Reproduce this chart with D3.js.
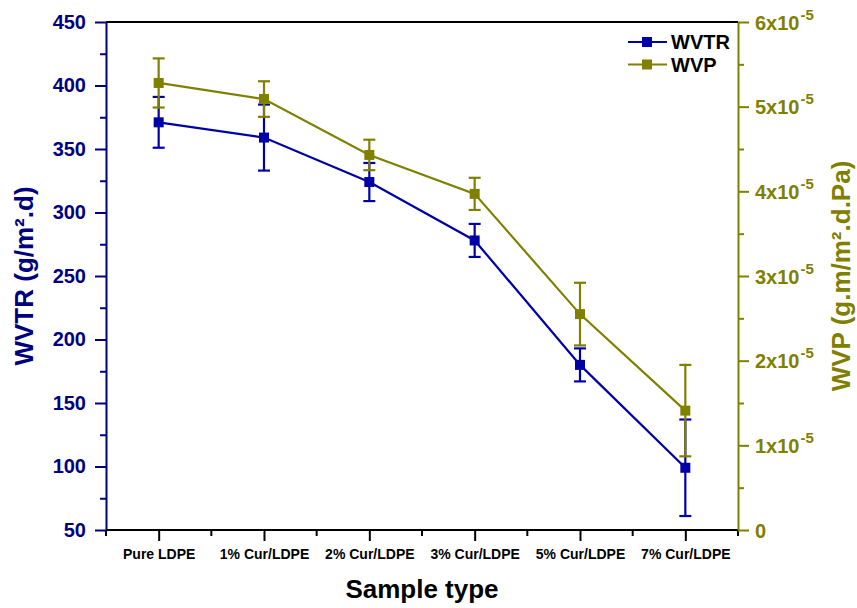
<!DOCTYPE html>
<html>
<head>
<meta charset="utf-8">
<script src="https://cdn.jsdelivr.net/npm/d3@7"></script>
<style>
  html, body { margin: 0; padding: 0; background: #ffffff; }
  svg { display: block; font-family: "Liberation Sans", Arial, sans-serif; }
</style>
</head>
<body>
<svg id="chart" width="857" height="608"></svg>
<script>
// ---------------- data ----------------
const categories = ["Pure LDPE", "1% Cur/LDPE", "2% Cur/LDPE", "3% Cur/LDPE", "5% Cur/LDPE", "7% Cur/LDPE"];
const wvtr      = [371, 359, 324, 278, 180, 99];
const wvtrErr   = [20, 26, 15, 13, 13, 38];
const wvp       = [5.28e-5, 5.09e-5, 4.43e-5, 3.97e-5, 2.55e-5, 1.41e-5];
const wvpErr    = [0.29e-5, 0.21e-5, 0.18e-5, 0.19e-5, 0.37e-5, 0.54e-5];
const leftTicks  = [50, 100, 150, 200, 250, 300, 350, 400, 450];
const leftMinor  = [75, 125, 175, 225, 275, 325, 375, 425];
const rightTicks = [0, 1e-5, 2e-5, 3e-5, 4e-5, 5e-5, 6e-5];
const rightMinor = [0.5e-5, 1.5e-5, 2.5e-5, 3.5e-5, 4.5e-5, 5.5e-5];
const seriesNames = ["WVTR", "WVP"];

// ---------------- layout ----------------
const L = 106, R = 738, T = 22, B = 530;
const blue = "#0000A8", navy = "#000080", olive = "#808000";

const svg = d3.select("#chart");
const x = d3.scalePoint().domain(categories).range([L, R]).padding(0.5);
const yL = d3.scaleLinear().domain([50, 450]).range([B, T]);
const yR = d3.scaleLinear().domain([0, 6e-5]).range([B, T]);

// ---------------- axes ----------------
svg.append("line").attr("x1", L).attr("x2", R).attr("y1", T).attr("y2", T)
  .attr("stroke", "#000").attr("stroke-width", 2);

// bottom axis
const gx = svg.append("g").attr("transform", `translate(0,${B})`)
  .call(d3.axisBottom(x).tickSize(11).tickPadding(8).tickSizeOuter(0));
gx.select(".domain").attr("stroke", "#000").attr("stroke-width", 2).attr("d", `M${L},0H${R}`);
gx.selectAll(".tick line").attr("stroke", "#000").attr("stroke-width", 2);
gx.selectAll(".tick text").attr("fill", "#000").attr("font-size", 14).attr("font-weight", "bold")
  .attr("font-family", "Liberation Sans, Arial, sans-serif");
const step = x.step();
const bMinor = [x(categories[0]) - step / 2].concat(categories.map(c => x(c) + step / 2));
svg.append("g").selectAll("line").data(bMinor).join("line")
  .attr("x1", d => d).attr("x2", d => d).attr("y1", B).attr("y2", B + 6)
  .attr("stroke", "#000").attr("stroke-width", 2);

// left axis
const gl = svg.append("g").attr("transform", `translate(${L},0)`)
  .call(d3.axisLeft(yL).tickValues(leftTicks).tickSize(11).tickPadding(9).tickSizeOuter(0));
gl.select(".domain").attr("stroke", navy).attr("stroke-width", 2);
gl.selectAll(".tick line").attr("stroke", navy).attr("stroke-width", 2);
gl.selectAll(".tick text").attr("fill", navy).attr("font-size", 20).attr("font-weight", "bold")
  .attr("font-family", "Liberation Sans, Arial, sans-serif");
const glm = svg.append("g").attr("transform", `translate(${L},0)`)
  .call(d3.axisLeft(yL).tickValues(leftMinor).tickSize(6).tickFormat("").tickSizeOuter(0));
glm.select(".domain").remove();
glm.selectAll(".tick line").attr("stroke", navy).attr("stroke-width", 2);

// right axis
const gr = svg.append("g").attr("transform", `translate(${R},0)`)
  .call(d3.axisRight(yR).tickValues(rightTicks).tickSize(11).tickPadding(6).tickSizeOuter(0).tickFormat(""));
gr.select(".domain").attr("stroke", olive).attr("stroke-width", 2);
gr.selectAll(".tick line").attr("stroke", olive).attr("stroke-width", 2);
gr.selectAll(".tick").each(function(d) {
  const t = d3.select(this).append("text")
    .attr("x", 17).attr("dy", "0.36em")
    .attr("fill", olive).attr("font-size", 20).attr("font-weight", "bold")
    .attr("text-anchor", "start")
    .attr("font-family", "Liberation Sans, Arial, sans-serif");
  if (d === 0) { t.text("0"); }
  else {
    const k = Math.round(d / 1e-5);
    t.append("tspan").text(k + "x10");
    t.append("tspan").attr("font-size", 15).attr("dy", "-10").attr("dx", 1).text("-5");
  }
});
const grm = svg.append("g").attr("transform", `translate(${R},0)`)
  .call(d3.axisRight(yR).tickValues(rightMinor).tickSize(6).tickFormat("").tickSizeOuter(0));
grm.select(".domain").remove();
grm.selectAll(".tick line").attr("stroke", olive).attr("stroke-width", 2);

// axis titles
svg.append("text").attr("transform", `translate(33,${(T + B) / 2}) rotate(-90)`)
  .attr("text-anchor", "middle").attr("fill", navy).attr("font-size", 26).attr("font-weight", "bold")
  .text("WVTR (g/m².d)");
svg.append("text").attr("transform", `translate(850,${(T + B) / 2}) rotate(-90)`)
  .attr("text-anchor", "middle").attr("fill", olive).attr("font-size", 26).attr("font-weight", "bold")
  .text("WVP (g.m/m².d.Pa)");
svg.append("text").attr("x", (L + R) / 2).attr("y", 598)
  .attr("text-anchor", "middle").attr("fill", "#000").attr("font-size", 26).attr("font-weight", "bold")
  .text("Sample type");

// ---------------- series ----------------
function drawSeries(vals, errs, y, color) {
  const g = svg.append("g");
  const pts = categories.map((c, i) => ({ c, v: vals[i], e: errs[i] }));
  g.append("path").datum(pts)
    .attr("fill", "none").attr("stroke", color).attr("stroke-width", 2.2)
    .attr("d", d3.line().x(d => x(d.c)).y(d => y(d.v)));
  const eb = g.selectAll(".eb").data(pts).join("g");
  eb.append("line").attr("x1", d => x(d.c)).attr("x2", d => x(d.c))
    .attr("y1", d => y(d.v + d.e)).attr("y2", d => y(d.v - d.e))
    .attr("stroke", color).attr("stroke-width", 2.2);
  eb.append("line").attr("x1", d => x(d.c) - 6).attr("x2", d => x(d.c) + 6)
    .attr("y1", d => y(d.v + d.e)).attr("y2", d => y(d.v + d.e))
    .attr("stroke", color).attr("stroke-width", 2.2);
  eb.append("line").attr("x1", d => x(d.c) - 6).attr("x2", d => x(d.c) + 6)
    .attr("y1", d => y(d.v - d.e)).attr("y2", d => y(d.v - d.e))
    .attr("stroke", color).attr("stroke-width", 2.2);
  g.selectAll("rect").data(pts).join("rect")
    .attr("x", d => x(d.c) - 5).attr("y", d => y(d.v) - 5)
    .attr("width", 10).attr("height", 10).attr("fill", color);
}
drawSeries(wvtr, wvtrErr, yL, blue);
drawSeries(wvp, wvpErr, yR, olive);

// ---------------- legend ----------------
const legend = svg.append("g");
[blue, olive].forEach((col, i) => {
  const ly = 42 + i * 22.5;
  legend.append("line").attr("x1", 628).attr("x2", 667).attr("y1", ly).attr("y2", ly)
    .attr("stroke", col).attr("stroke-width", 2.2);
  legend.append("rect").attr("x", 642).attr("y", ly - 5).attr("width", 10).attr("height", 10).attr("fill", col);
  legend.append("text").attr("x", 671).attr("y", ly).attr("dy", "0.36em")
    .attr("fill", "#000").attr("font-size", 20).attr("font-weight", "bold")
    .text(seriesNames[i]);
});
</script>
</body>
</html>
